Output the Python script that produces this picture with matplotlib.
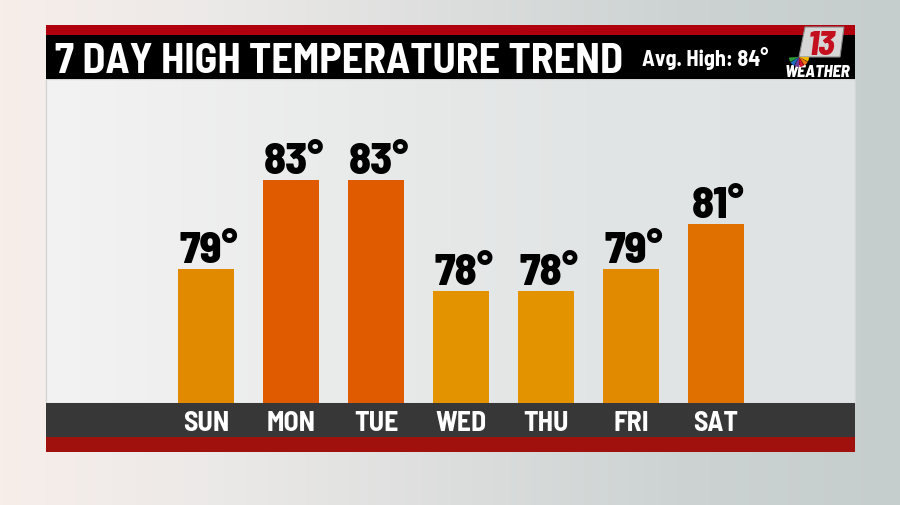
import numpy as np
import matplotlib
matplotlib.use("Agg")
import matplotlib.pyplot as plt
from matplotlib.patches import Rectangle, Wedge, Polygon

days = ["SUN", "MON", "TUE", "WED", "THU", "FRI", "SAT"]
highs = [79, 83, 83, 78, 78, 79, 81]
bar_colors = ["#e18a00", "#e05a00", "#e05a00", "#e39300", "#e39300", "#e18a00", "#e07000"]
title = "7 DAY HIGH TEMPERATURE TREND"
avg_text = "Avg. High: 84°"

font = ["Barlow Semi Condensed", "DejaVu Sans"]

W, H = 900, 506
fig = plt.figure(figsize=(9, 5.06), dpi=100)

# background in pixel coordinates (y down)
bg = fig.add_axes([0, 0, 1, 1])
bg.set_xlim(0, W)
bg.set_ylim(H, 0)
bg.axis("off")
grad = np.linspace(0, 1, 256)[None, :]
cmap = matplotlib.colors.LinearSegmentedColormap.from_list(
    "bg", ["#f7eeea", "#ebe9e8", "#dcdedd", "#cdd3d3", "#c6cdcd"])
bg.imshow(grad, extent=[0, W, H, 0], aspect="auto", cmap=cmap, zorder=0)

# panel
pan = matplotlib.colors.LinearSegmentedColormap.from_list(
    "pan", ["#f4f3f3", "#eaebeb", "#e2e5e5", "#dfe3e3"])
bg.imshow(grad, extent=[46, 855, 404, 80], aspect="auto", cmap=pan, zorder=1)
bg.add_patch(Rectangle((46, 80), 809, 324, facecolor="none", edgecolor="#d4d6d6", lw=1, zorder=1))
# header bands
bg.add_patch(Rectangle((46, 26), 809, 10, facecolor="#b0000e", zorder=2))
bg.add_patch(Rectangle((46, 36), 809, 44, facecolor="#000000", zorder=2))
# bottom bands
bg.add_patch(Rectangle((46, 404), 809, 34, facecolor="#373737", zorder=2))
bg.add_patch(Rectangle((46, 438), 809, 15, facecolor="#a0100c", zorder=2))

bg.text(55, 73, title, color="white", fontsize=30.3, fontweight="bold", family=font,
        va="baseline", ha="left", zorder=3)
bg.text(705, 66, avg_text, color="white", fontsize=16, fontweight="bold", family=font,
        va="baseline", ha="center", zorder=3)

# logo: silver plate + red 13, peacock, WEATHER
bg.add_patch(Polygon([(805, 28), (844, 28), (840, 58), (799, 58)], closed=True,
                     facecolor="#d6d6d6", edgecolor="#8a8a8a", lw=0.8, zorder=3))
bg.text(822, 55, "13", color="#c4101e", fontsize=25, fontweight="heavy", style="italic",
        family=font, va="baseline", ha="center", zorder=4)
pc = ["#f2b700", "#f07a10", "#d8142c", "#6c3c98", "#1c6cc2", "#2c9c3c"]
for i, c in enumerate(pc):
    bg.add_patch(Wedge((799, 58), 10, i * 30, i * 30 + 27, facecolor=c, zorder=5))
bg.text(817, 77, "WEATHER", color="white", fontsize=12, fontweight="heavy", style="italic",
        family=font, va="baseline", ha="center", zorder=4)

# bar chart axes
x0, x1 = 163.5, 758.5
ytop, ybot = 80, 404
ax = fig.add_axes([x0 / W, 1 - ybot / H, (x1 - x0) / W, (ybot - ytop) / H])
ax.patch.set_alpha(0)
ax.set_xlim(-0.5, len(days) - 0.5)
ax.set_ylim(73, 87.5)
ax.axis("off")
xs = np.arange(len(days))
ax.bar(xs, highs, width=0.66, color=bar_colors, zorder=3)
for x, v in zip(xs, highs):
    ax.annotate(f"{v}°", (x, v), xytext=(2, 5), textcoords="offset points",
                ha="center", va="baseline", fontsize=32, fontweight="heavy",
                family=font, color="black")
for x, d in zip(xs, days):
    ax.annotate(d, (x, 73), xytext=(0, -19.5), textcoords="offset points",
                ha="center", va="baseline", fontsize=20, fontweight="bold",
                family=font, color="white", annotation_clip=False)

fig.savefig("out.png", dpi=100)
